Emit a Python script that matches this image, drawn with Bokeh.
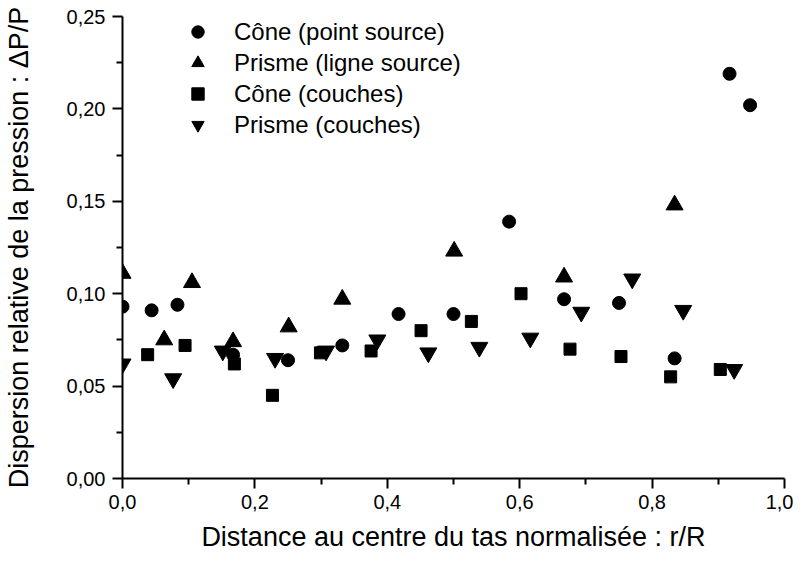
from bokeh.plotting import figure
from bokeh.models import FixedTicker, Range1d
from bokeh.embed import file_html
from bokeh.resources import INLINE

# --- data ---
cone_point_x = [0.0, 0.044, 0.083, 0.167, 0.25, 0.332, 0.417, 0.50, 0.584, 0.667, 0.75, 0.834, 0.917, 0.948]
cone_point_y = [0.093, 0.091, 0.094, 0.067, 0.064, 0.072, 0.089, 0.089, 0.139, 0.097, 0.095, 0.065, 0.219, 0.202]

prisme_ligne_x = [0.0, 0.063, 0.105, 0.167, 0.251, 0.332, 0.501, 0.667, 0.834]
prisme_ligne_y = [0.111, 0.075, 0.106, 0.074, 0.082, 0.097, 0.123, 0.109, 0.148]

cone_couches_x = [0.038, 0.0945, 0.169, 0.2265, 0.299, 0.3755, 0.451, 0.527, 0.602, 0.676, 0.753, 0.828, 0.903]
cone_couches_y = [0.067, 0.072, 0.062, 0.045, 0.068, 0.069, 0.080, 0.085, 0.100, 0.070, 0.066, 0.055, 0.059]

prisme_couches_x = [0.0, 0.0765, 0.1515, 0.2305, 0.3075, 0.385, 0.462, 0.539, 0.616, 0.693, 0.770, 0.847, 0.924]
prisme_couches_y = [0.062, 0.054, 0.069, 0.065, 0.069, 0.075, 0.068, 0.071, 0.076, 0.090, 0.108, 0.091, 0.059]

series_labels = ["Cône (point source)", "Prisme (ligne source)", "Cône (couches)", "Prisme (couches)"]

x_ticks = [0.0, 0.2, 0.4, 0.6, 0.8, 1.0]
x_tick_labels = ["0,0", "0,2", "0,4", "0,6", "0,8", "1,0"]
x_minor_ticks = [0.1, 0.3, 0.5, 0.7, 0.9]
y_ticks = [0.0, 0.05, 0.10, 0.15, 0.20, 0.25]
y_tick_labels = ["0,00", "0,05", "0,10", "0,15", "0,20", "0,25"]
y_minor_ticks = [0.025, 0.075, 0.125, 0.175, 0.225]

x_title = "Distance au centre du tas normalisée : r/R"
y_title = "Dispersion relative de la pression : ΔP/P"

FONT = "Liberation Sans"

p = figure(width=793, height=559,
           x_range=Range1d(0.0, 1.0), y_range=Range1d(0.0, 0.25),
           output_backend="svg", toolbar_location=None,
           min_border_left=118, min_border_right=9,
           min_border_top=16, min_border_bottom=81)

p.outline_line_color = None
p.grid.visible = False
p.background_fill_color = "white"
p.border_fill_color = "white"

p.scatter(cone_point_x, cone_point_y, marker="circle", size=13,
          color="black", legend_label=series_labels[0])
p.scatter(prisme_ligne_x, prisme_ligne_y, marker="triangle", size=17,
          color="black", legend_label=series_labels[1])
p.scatter(cone_couches_x, cone_couches_y, marker="square", size=12,
          color="black", legend_label=series_labels[2])
p.scatter(prisme_couches_x, prisme_couches_y, marker="inverted_triangle", size=17,
          color="black", legend_label=series_labels[3])

p.xaxis.ticker = FixedTicker(ticks=x_ticks, minor_ticks=x_minor_ticks)
p.yaxis.ticker = FixedTicker(ticks=y_ticks, minor_ticks=y_minor_ticks)
p.xaxis.major_label_overrides = dict(zip(x_ticks, x_tick_labels))
p.yaxis.major_label_overrides = dict(zip(y_ticks, y_tick_labels))

for ax in (p.xaxis[0], p.yaxis[0]):
    ax.axis_line_color = "black"
    ax.axis_line_width = 2
    ax.major_tick_line_color = "black"
    ax.major_tick_line_width = 2
    ax.minor_tick_line_color = "black"
    ax.minor_tick_line_width = 2
    ax.major_tick_out = 10
    ax.major_tick_in = 0
    ax.minor_tick_out = 6
    ax.minor_tick_in = 0
    ax.major_label_text_font = FONT
    ax.major_label_text_font_size = "20px"
    ax.major_label_text_color = "black"
    ax.axis_label_text_font = FONT
    ax.axis_label_text_font_size = "27px"
    ax.axis_label_text_font_style = "normal"
    ax.axis_label_text_color = "black"

p.xaxis.axis_label = x_title
p.yaxis.axis_label = y_title
p.xaxis.major_label_standoff = 6
p.yaxis.major_label_standoff = 7
p.xaxis.axis_label_standoff = 10
p.yaxis.axis_label_standoff = 30

leg = p.legend[0]
leg.location = (60, 338)
leg.border_line_color = None
leg.background_fill_alpha = 0
leg.padding = 0
leg.margin = 0
leg.spacing = 0
leg.glyph_width = 31
leg.glyph_height = 31
leg.label_standoff = 21
leg.label_text_font = FONT
leg.label_text_font_size = "24px"
leg.label_text_color = "black"

open("out.html", "w").write(file_html(p, INLINE))
